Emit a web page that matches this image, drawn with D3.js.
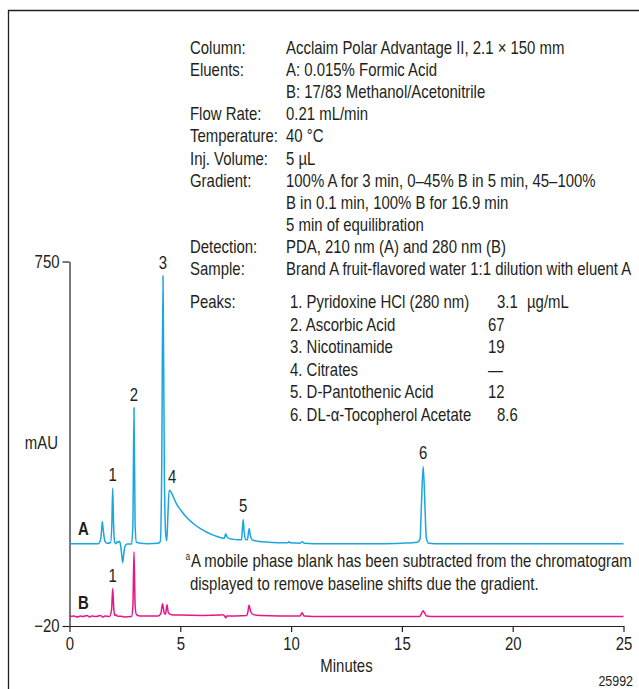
<!DOCTYPE html>
<html>
<head>
<meta charset="utf-8">
<script src="https://cdn.jsdelivr.net/npm/d3@7/dist/d3.min.js"></script>
<style>
  html, body { margin: 0; padding: 0; background: #fff; }
  svg { display: block; }
  text { font-family: 'Liberation Sans', Arial, sans-serif; fill: #231f20; }
</style>
</head>
<body>
<svg id="chart" width="639" height="689"></svg>
<script>
// ---------------- data ----------------
const xTicks = [0, 5, 10, 15, 20, 25];
const yTicks = [750, -20];
const offsetA = 154; // trace A is displayed offset above trace B (mAU)

// Trace A (210 nm): [minutes, mAU above its own baseline]
const traceA = [
  [0, 0], [0.6, 0], [1.0, 0], [1.30, 0], [1.40, 8], [1.46, 35], [1.48, 46], [1.52, 30], [1.60, 5],
  [1.70, 1], [1.85, 2], [1.91, 40], [1.95, 117], [1.99, 40], [2.04, 3], [2.10, 0],
  [2.15, 4], [2.20, 3], [2.25, 5], [2.30, -2], [2.36, -25], [2.40, -40], [2.44, -25],
  [2.50, -6], [2.60, -1], [2.80, -1], [2.86, 40], [2.91, 287], [2.96, 40], [3.02, 3],
  [3.20, 1], [3.50, 0], [4.00, 1], [4.10, 5], [4.16, 150], [4.22, 566], [4.28, 150],
  [4.34, 20], [4.39, 6], [4.44, 60], [4.50, 113], [4.60, 108], [4.70, 97], [4.84, 83],
  [5.00, 72], [5.29, 55], [5.60, 42], [5.89, 32], [6.20, 24], [6.49, 18], [6.80, 13],
  [6.98, 11], [7.02, 17], [7.05, 21], [7.10, 15], [7.20, 11], [7.40, 9], [7.60, 8],
  [7.76, 8], [7.80, 30], [7.84, 51], [7.88, 25], [7.95, 9], [8.03, 8], [8.08, 25],
  [8.11, 32], [8.15, 20], [8.25, 8], [8.50, 5], [9.00, 3], [9.50, 2], [9.85, 2],
  [9.90, 4], [9.95, 2], [10.40, 1], [10.50, 4], [10.60, 1], [11.0, 0], [12.0, 0],
  [13.0, 0], [14.0, 0], [15.0, 1], [15.5, 2], [15.7, 3], [15.82, 10], [15.88, 80],
  [15.96, 163], [16.04, 80], [16.10, 12], [16.2, 1], [16.5, 0], [20.0, 0], [25.0, 0]
];

// Trace B (280 nm): [minutes, mAU]
const traceB = [
  [0, 0], [0.2, 1], [0.35, -1], [0.5, 1], [0.6, 0], [0.8, 2], [0.9, -1], [1.0, 1],
  [1.2, 0], [1.4, 2], [1.5, -1], [1.6, 1], [1.8, 0], [1.90, 15], [1.95, 59], [2.00, 15],
  [2.05, 2], [2.10, 4], [2.15, 1], [2.4, 0], [2.5, -1], [2.8, 0], [2.86, 20], [2.91, 137],
  [2.96, 25], [3.02, 4], [3.2, 1], [4.0, 1], [4.12, 6], [4.20, 27], [4.27, 8], [4.33, 5],
  [4.40, 25], [4.46, 8], [4.6, 4], [5.0, 3], [6.0, 2], [6.8, 3], [6.9, 4], [7.0, 1],
  [7.05, -3], [7.1, 1], [7.5, 1], [8.0, 2], [8.05, 10], [8.10, 24], [8.18, 10], [8.3, 4],
  [8.6, 2], [9.5, 1], [10.4, 1], [10.5, 8], [10.58, 1], [11, 0], [15.8, 0], [15.88, 6],
  [15.96, 12], [16.04, 6], [16.12, 1], [16.3, 0], [25, 0]
];

// peak number labels: [label, minutes, apex mAU]
const peakLabelsA = [["1", 1.95, 117], ["2", 2.91, 287], ["3", 4.22, 566], ["4", 4.63, 113], ["5", 7.84, 51], ["6", 15.96, 163]];
const peakLabelsB = [["1", 1.95, 59]];

const infoLabels = ["Column:", "Eluents:", "", "Flow Rate:", "Temperature:", "Inj. Volume:", "Gradient:", "", "", "Detection:", "Sample:"];
const infoValues = [
  "Acclaim Polar Advantage II, 2.1 × 150 mm",
  "A: 0.015% Formic Acid",
  "B: 17/83 Methanol/Acetonitrile",
  "0.21 mL/min",
  "40 °C",
  "5 µL",
  "100% A for 3 min, 0–45% B in 5 min, 45–100%",
  "B in 0.1 min, 100% B for 16.9 min",
  "5 min of equilibration",
  "PDA, 210 nm (A) and 280 nm (B)",
  "Brand A fruit-flavored water 1:1 dilution with eluent A"
];
const peakNames = ["1. Pyridoxine HCl (280 nm)", "2. Ascorbic Acid", "3. Nicotinamide", "4. Citrates", "5. D-Pantothenic Acid", "6. DL-α-Tocopherol Acetate"];
const peakConc = ["3.1", "67", "19", "—", "12", "8.6"];
const footnote = ["A mobile phase blank has been subtracted from the chromatogram", "displayed to remove baseline shifts due the gradient."];

// ---------------- drawing ----------------
const svg = d3.select("#chart");
const colA = "#1ba6e1", colB = "#e5168a", ink = "#231f20";
const FS = 18, SX = 0.83;

// condensed text helper (horizontal squeeze emulates a condensed face)
function txt(px, py, s, opts = {}) {
  const t = svg.append("text")
    .attr("transform", `translate(${px},${py}) scale(${opts.sx || SX},1)`)
    .attr("font-size", opts.fs || FS)
    .attr("text-anchor", opts.anchor || "start");
  if (opts.bold) t.attr("font-weight", "bold");
  t.text(s);
  return t;
}

const x = d3.scaleLinear().domain([0, 25]).range([69.5, 623.5]);
const y = d3.scaleLinear().domain([-20, 750]).range([626, 261.5]);

// frame
svg.append("path").attr("d", "M8.5,689 V10.5 H639").attr("fill", "none").attr("stroke", ink).attr("stroke-width", 1.3);

// axes
const xAxis = d3.axisBottom(x).tickValues(xTicks).tickSize(6).tickSizeOuter(0).tickPadding(5);
const gx = svg.append("g").attr("transform", `translate(0,${y(-20)})`).call(xAxis);
const yAxis = d3.axisLeft(y).tickValues(yTicks).tickSize(7).tickSizeOuter(0).tickPadding(3);
const gy = svg.append("g").attr("transform", `translate(${x(0)},0)`).call(yAxis);
[gx, gy].forEach(g => {
  g.select(".domain").attr("stroke", ink).attr("stroke-width", 1.2);
  g.selectAll(".tick line").attr("stroke", ink).attr("stroke-width", 1.2);
  g.selectAll(".tick text").attr("font-size", FS).attr("fill", ink)
    .style("font-family", "'Liberation Sans', Arial, sans-serif");
});
// squeeze tick labels horizontally around their anchor
gx.selectAll(".tick text").attr("transform", `scale(${SX},1)`);
gy.selectAll(".tick text").each(function () {
  const el = d3.select(this);
  const xx = +el.attr("x");
  el.attr("x", xx / SX).attr("transform", `scale(${SX},1)`);
});

txt(x(12.5), 672, "Minutes", { anchor: "middle" });
txt(58, 449, "mAU", { anchor: "end" });
txt(633, 686, "25992", { anchor: "end", fs: 15 });

// traces
const lineA = d3.line().x(d => x(d[0])).y(d => y(d[1] + offsetA)).curve(d3.curveMonotoneX);
const lineB = d3.line().x(d => x(d[0])).y(d => y(d[1])).curve(d3.curveMonotoneX);
svg.append("path").datum(traceB).attr("d", lineB).attr("fill", "none").attr("stroke", colB).attr("stroke-width", 1.5).attr("stroke-linejoin", "round");
svg.append("path").datum(traceA).attr("d", lineA).attr("fill", "none").attr("stroke", colA).attr("stroke-width", 1.5).attr("stroke-linejoin", "round");

// trace letters
txt(78, y(offsetA) - 9, "A", { bold: true });
txt(78, y(0) - 8, "B", { bold: true });

// peak labels
peakLabelsA.forEach(d => txt(x(d[1]), y(d[2] + offsetA) - 7, d[0], { anchor: "middle" }));
peakLabelsB.forEach(d => txt(x(d[1]), y(d[2]) - 7, d[0], { anchor: "middle" }));

// info block
const rowH = 22.1, top0 = 54;
infoLabels.forEach((t, i) => { if (t) txt(190, top0 + i * rowH, t); });
infoValues.forEach((t, i) => txt(286, top0 + i * rowH, t));
txt(190, 308, "Peaks:");
peakNames.forEach((t, i) => txt(290, 308 + i * 22.6, t));
peakConc.forEach((t, i) => txt(t.includes(".") ? 497 : 488, 308 + i * 22.6, t));
txt(527, 308, "µg/mL");

// footnote
txt(185.5, 560, "a", { fs: 10 });
txt(191, 567, footnote[0]);
txt(190, 590, footnote[1]);
</script>
</body>
</html>
